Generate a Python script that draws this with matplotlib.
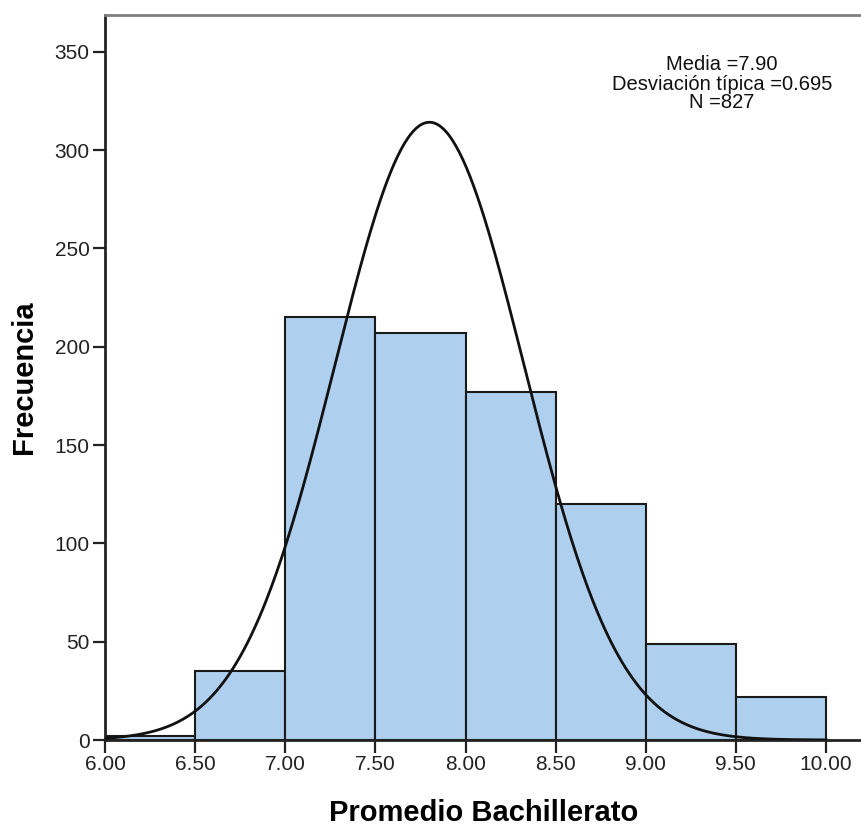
import numpy as np
import matplotlib
matplotlib.use("Agg")
from matplotlib import pyplot as plt

# histogram of "Promedio Bachillerato" (SPSS style)
bin_edges = [6.0, 6.5, 7.0, 7.5, 8.0, 8.5, 9.0, 9.5, 10.0]
counts = [2, 35, 215, 207, 177, 120, 49, 22]
x_ticks = [6.0, 6.5, 7.0, 7.5, 8.0, 8.5, 9.0, 9.5, 10.0]
y_ticks = [0, 50, 100, 150, 200, 250, 300, 350]

# normal curve as drawn in the picture
CURVE_MEAN = 7.80
CURVE_SD = 0.525
N_TOTAL = 827
BIN_WIDTH = 0.5

stats_text = "Media =7.90\nDesviación típica =0.695\nN =827"

plt.rcParams["font.family"] = ["Liberation Sans", "DejaVu Sans"]

fig = plt.figure(figsize=(8.62, 8.27), dpi=100)
ax = fig.add_axes([105 / 862, 87 / 827, 1 - 105 / 862, (740 - 15) / 827])

lefts = bin_edges[:-1]
widths = np.diff(bin_edges)
ax.bar(lefts, counts, width=widths, align="edge", color="#aed0ee",
       edgecolor="#1a1a1a", linewidth=1.5, zorder=2)

xs = np.linspace(6.0, 10.0, 400)
ys = N_TOTAL * BIN_WIDTH / (CURVE_SD * np.sqrt(2 * np.pi)) * \
    np.exp(-0.5 * ((xs - CURVE_MEAN) / CURVE_SD) ** 2)
ax.plot(xs, ys, color="#111111", linewidth=2, zorder=3)

ax.set_xlim(6.0, 6.0 + (862 - 105) / 180.25)
ax.set_ylim(0, (740 - 15) / 1.966)
ax.set_xticks(x_ticks)
ax.set_xticklabels([f"{v:.2f}" for v in x_ticks])
ax.set_yticks(y_ticks)

ax.tick_params(direction="out", length=9, width=1.6, labelsize=15,
               colors="#222222", pad=2)

for side in ["left", "bottom"]:
    ax.spines[side].set_linewidth(2)
    ax.spines[side].set_color("#222222")
ax.spines["top"].set_linewidth(2)
ax.spines["top"].set_color("#7f7f7f")
ax.spines["right"].set_visible(False)

ax.set_xlabel("Promedio Bachillerato", fontsize=21, fontweight="bold", labelpad=18)
ax.set_ylabel("Frecuencia", fontsize=21, fontweight="bold", labelpad=12)

ax.text(722 / 862, (827 - 84) / 827, stats_text, transform=fig.transFigure,
        ha="center", va="center", fontsize=14.5, linespacing=1.0,
        color="#111111")

fig.savefig("out.png", dpi=100)
